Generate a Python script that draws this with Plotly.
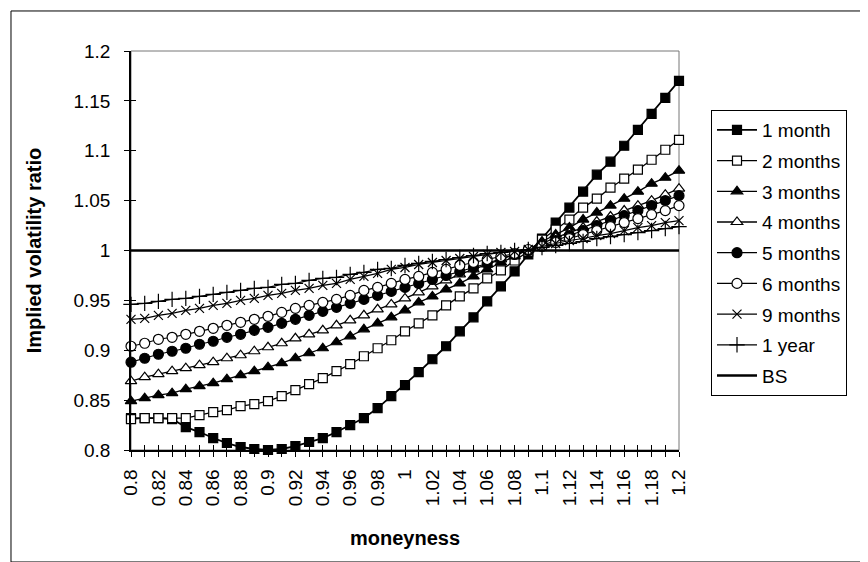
import plotly.graph_objects as go

moneyness = [0.80, 0.81, 0.82, 0.83, 0.84, 0.85, 0.86, 0.87, 0.88, 0.89,
             0.90, 0.91, 0.92, 0.93, 0.94, 0.95, 0.96, 0.97, 0.98, 0.99,
             1.00, 1.01, 1.02, 1.03, 1.04, 1.05, 1.06, 1.07, 1.08, 1.09,
             1.10, 1.11, 1.12, 1.13, 1.14, 1.15, 1.16, 1.17, 1.18, 1.19, 1.20]

tick_labels = ["0.8", "", "0.82", "", "0.84", "", "0.86", "", "0.88", "",
               "0.9", "", "0.92", "", "0.94", "", "0.96", "", "0.98", "",
               "1", "", "1.02", "", "1.04", "", "1.06", "", "1.08", "",
               "1.1", "", "1.12", "", "1.14", "", "1.16", "", "1.18", "", "1.2"]

m1 = [0.832, 0.832, 0.832, 0.831, 0.823, 0.818, 0.812, 0.807, 0.803, 0.801,
      0.800, 0.801, 0.804, 0.808, 0.812, 0.818, 0.825, 0.832, 0.842, 0.854,
      0.865, 0.878, 0.891, 0.904, 0.919, 0.933, 0.949, 0.964, 0.979, 0.996,
      1.012, 1.028, 1.043, 1.059, 1.076, 1.089, 1.105, 1.121, 1.137, 1.153, 1.170]
m2 = [0.831, 0.832, 0.832, 0.832, 0.832, 0.835, 0.838, 0.840, 0.844, 0.846,
      0.849, 0.854, 0.860, 0.866, 0.872, 0.879, 0.886, 0.894, 0.902, 0.910,
      0.919, 0.927, 0.935, 0.945, 0.954, 0.962, 0.972, 0.980, 0.990, 0.999,
      1.011, 1.021, 1.031, 1.043, 1.052, 1.063, 1.072, 1.081, 1.091, 1.101, 1.111]
m3 = [0.849, 0.852, 0.855, 0.857, 0.861, 0.864, 0.867, 0.871, 0.875, 0.879,
      0.883, 0.887, 0.892, 0.897, 0.902, 0.908, 0.914, 0.921, 0.927, 0.933,
      0.940, 0.948, 0.954, 0.961, 0.967, 0.974, 0.981, 0.988, 0.994, 1.001,
      1.009, 1.016, 1.023, 1.031, 1.038, 1.045, 1.052, 1.059, 1.067, 1.073, 1.080]
m4 = [0.869, 0.873, 0.876, 0.879, 0.882, 0.885, 0.888, 0.892, 0.895, 0.899,
      0.903, 0.907, 0.912, 0.916, 0.920, 0.925, 0.930, 0.935, 0.941, 0.946,
      0.952, 0.958, 0.964, 0.970, 0.976, 0.981, 0.986, 0.991, 0.996, 1.001,
      1.007, 1.013, 1.018, 1.023, 1.029, 1.034, 1.040, 1.045, 1.050, 1.056, 1.062]
m5 = [0.888, 0.892, 0.896, 0.899, 0.902, 0.906, 0.909, 0.913, 0.916, 0.920,
      0.923, 0.927, 0.931, 0.935, 0.939, 0.943, 0.947, 0.951, 0.955, 0.959,
      0.963, 0.967, 0.971, 0.975, 0.979, 0.983, 0.987, 0.992, 0.996, 1.000,
      1.005, 1.010, 1.015, 1.020, 1.025, 1.030, 1.035, 1.040, 1.045, 1.050, 1.055]
m6 = [0.904, 0.907, 0.911, 0.913, 0.916, 0.919, 0.922, 0.925, 0.928, 0.931,
      0.934, 0.938, 0.942, 0.945, 0.948, 0.951, 0.955, 0.960, 0.963, 0.967,
      0.971, 0.974, 0.978, 0.981, 0.985, 0.988, 0.991, 0.994, 0.997, 1.001,
      1.004, 1.008, 1.012, 1.016, 1.020, 1.024, 1.028, 1.032, 1.036, 1.040, 1.045]
m9 = [0.931, 0.932, 0.935, 0.937, 0.940, 0.942, 0.945, 0.947, 0.950, 0.952,
      0.955, 0.957, 0.960, 0.962, 0.965, 0.967, 0.971, 0.974, 0.977, 0.981,
      0.983, 0.986, 0.988, 0.990, 0.992, 0.994, 0.996, 0.998, 0.999, 1.001,
      1.004, 1.007, 1.010, 1.012, 1.015, 1.017, 1.020, 1.023, 1.025, 1.028, 1.030]
m12 = [0.946, 0.947, 0.949, 0.951, 0.952, 0.954, 0.956, 0.958, 0.960, 0.962,
       0.963, 0.966, 0.967, 0.970, 0.972, 0.973, 0.976, 0.978, 0.981, 0.982,
       0.985, 0.987, 0.989, 0.991, 0.993, 0.995, 0.997, 0.998, 1.000, 1.001,
       1.003, 1.005, 1.007, 1.009, 1.012, 1.014, 1.016, 1.018, 1.020, 1.022, 1.024]
bs = [1.0, 1.0, 1.0, 1.0, 1.0, 1.0, 1.0, 1.0, 1.0, 1.0,
      1.0, 1.0, 1.0, 1.0, 1.0, 1.0, 1.0, 1.0, 1.0, 1.0,
      1.0, 1.0, 1.0, 1.0, 1.0, 1.0, 1.0, 1.0, 1.0, 1.0,
      1.0, 1.0, 1.0, 1.0, 1.0, 1.0, 1.0, 1.0, 1.0, 1.0, 1.0]

series_names = ["1 month", "2 months", "3 months", "4 months", "5 months",
                "6 months", "9 months", "1 year"]
series_values = [m1, m2, m3, m4, m5, m6, m9, m12]
y_ticks = [0.8, 0.85, 0.9, 0.95, 1.0, 1.05, 1.1, 1.15, 1.2]

styles = [
    dict(symbol="square", color="black", lw=1.8, size=9),
    dict(symbol="square", color="white", lw=1.3, size=9),
    dict(symbol="triangle-up", color="black", lw=1.3, size=10),
    dict(symbol="triangle-up", color="white", lw=1.3, size=10),
    dict(symbol="circle", color="black", lw=1.2, size=10),
    dict(symbol="circle", color="white", lw=1.2, size=10),
    dict(symbol="x-thin", color="black", lw=1.2, size=9),
    dict(symbol="cross-thin", color="black", lw=1.2, size=11),
]

FONT = "Liberation Sans, Arial, sans-serif"
fig = go.Figure()
for name, vals, st in zip(series_names, series_values, styles):
    fig.add_trace(go.Scatter(
        x=moneyness, y=vals, name=name, mode="lines+markers",
        legendgroup=name, cliponaxis=False,
        line=dict(color="black", width=st["lw"]),
        marker=dict(symbol=st["symbol"], size=st["size"], color=st["color"],
                    line=dict(color="black", width=1.2)),
    ))
fig.add_trace(go.Scatter(
    x=moneyness, y=bs, name="BS", mode="lines", legendgroup="BS",
    xaxis="x2", yaxis="y2", line=dict(color="black", width=2.5),
))

common_x = dict(range=[0.8, 1.2], tickvals=moneyness, ticktext=tick_labels,
                showgrid=False, zeroline=False, ticklen=5, tickwidth=1,
                tickcolor="black")
common_y = dict(range=[0.8, 1.2], tickvals=y_ticks, showgrid=False,
                zeroline=False, ticklen=5, tickwidth=1, tickcolor="black")

fig.update_layout(
    width=868, height=562,
    margin=dict(l=123, r=197, t=43, b=120),
    paper_bgcolor="white", plot_bgcolor="white",
    font=dict(family=FONT, size=19, color="black"),
    xaxis=dict(**common_x, ticks="outside", tickangle=-90,
               showline=True, linecolor="black", linewidth=1.5,
               ticklabelstandoff=5,
               tickfont=dict(size=19),
               title=dict(text="<b>moneyness</b>", font=dict(size=20), standoff=26)),
    yaxis=dict(**common_y, ticks="outside", showline=True, linecolor="black",
               linewidth=1.5, ticklabelstandoff=10,
               tickfont=dict(size=19),
               title=dict(text="<b>Implied volatility ratio</b>", font=dict(size=20), standoff=26)),
    xaxis2=dict(**common_x, overlaying="x", ticks="inside", showticklabels=False,
                showline=False),
    yaxis2=dict(**common_y, overlaying="y", ticks="inside", showticklabels=False,
                showline=False),
    showlegend=True,
    legend=dict(x=1.0584, y=0.852, xanchor="left", yanchor="top",
                bordercolor="black", borderwidth=1, bgcolor="white",
                font=dict(size=19), itemwidth=40, tracegroupgap=3,
                traceorder="grouped"),
    shapes=[
        dict(type="rect", xref="paper", yref="paper", x0=0, y0=0, x1=1, y1=1,
             line=dict(color="#777777", width=1), layer="below"),
        dict(type="rect", xref="paper", yref="paper", x0=-0.219, y0=-0.2807,
             x1=1.354, y1=1.1003, line=dict(color="black", width=1), layer="below"),
    ],
)

fig.write_html("out.html")
